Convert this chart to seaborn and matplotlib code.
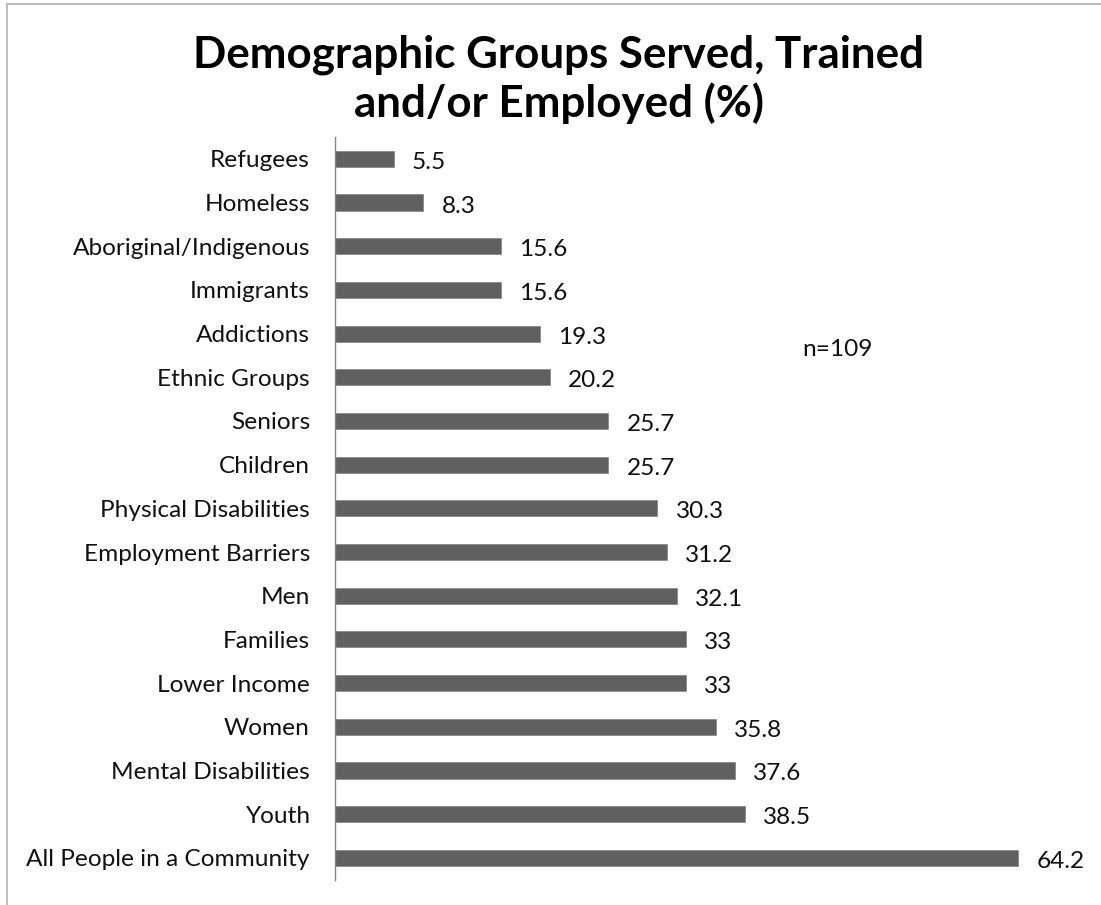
import matplotlib
matplotlib.use("Agg")
import matplotlib.pyplot as plt
import seaborn as sns
import pandas as pd
from matplotlib.lines import Line2D

groups = [
    "Refugees", "Homeless", "Aboriginal/Indigenous", "Immigrants", "Addictions",
    "Ethnic Groups", "Seniors", "Children", "Physical Disabilities",
    "Employment Barriers", "Men", "Families", "Lower Income", "Women",
    "Mental Disabilities", "Youth", "All People in a Community",
]
percent = [5.5, 8.3, 15.6, 15.6, 19.3, 20.2, 25.7, 25.7, 30.3, 31.2, 32.1,
           33, 33, 35.8, 37.6, 38.5, 64.2]
value_labels = ["5.5", "8.3", "15.6", "15.6", "19.3", "20.2", "25.7", "25.7",
                "30.3", "31.2", "32.1", "33", "33", "35.8", "37.6", "38.5", "64.2"]

df = pd.DataFrame({"group": groups, "percent": percent})

sns.set_theme(style="white")
plt.rcParams["font.family"] = ["Lato", "DejaVu Sans"]

W, H = 1101, 905
fig = plt.figure(figsize=(W / 100, H / 100), dpi=100)

ax_left, ax_right = 335, 1065
ax_top, ax_bottom = 137, 879.7
ax = fig.add_axes([ax_left / W, 1 - ax_bottom / H,
                   (ax_right - ax_left) / W, (ax_bottom - ax_top) / H])

sns.barplot(data=df, x="percent", y="group", order=groups, color="#606060",
            saturation=1, width=0.37, ax=ax, edgecolor="#8a8a8a", linewidth=0.6)

ax.set_xlim(0, (ax_right - ax_left) / 10.64)
ax.set_ylim(len(groups) - 0.5, -0.5)
ax.set_xlabel("")
ax.set_ylabel("")
ax.set_xticks([])
ax.tick_params(axis="y", length=0, pad=18, labelsize=17.6, labelcolor="#111111")
for side in ["top", "right", "bottom"]:
    ax.spines[side].set_visible(False)
ax.spines["left"].set_color("#888888")
ax.spines["left"].set_linewidth(1.0)

for i, (v, lab) in enumerate(zip(percent, value_labels)):
    ax.text(v + 1.7, i + 0.08, lab, va="center", ha="left", fontsize=17.6,
            color="#111111")

fig.text(802 / W, 1 - 350 / H, "n=109", ha="left", va="center", fontsize=17.6,
         color="#111111")

fig.text(559 / W, 1 - 79 / H, "Demographic Groups Served, Trained\nand/or Employed (%)",
         ha="center", va="center", fontsize=31.6, fontweight="bold",
         linespacing=1.2, color="black")

# chart frame (top and left edges)
fig.add_artist(Line2D([7 / W, 1], [1 - 4 / H, 1 - 4 / H], transform=fig.transFigure,
                      color="#bdbdbd", linewidth=1.5))
fig.add_artist(Line2D([7 / W, 7 / W], [0, 1 - 4 / H], transform=fig.transFigure,
                      color="#bdbdbd", linewidth=1.5))

fig.savefig("out.png", dpi=100, facecolor="white")
